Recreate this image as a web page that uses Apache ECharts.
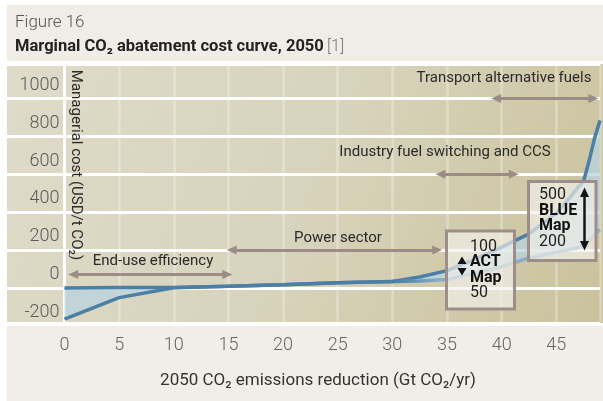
<!DOCTYPE html>
<html><head><meta charset="utf-8">
<script src="https://cdn.jsdelivr.net/npm/echarts@6/dist/echarts.min.js"></script>
<style>html,body{margin:0;padding:0;background:#fff}#c{width:603px;height:401px}</style>
</head><body><div id="c"></div>
<script>
// ---- data ----
const xValues  = [0, 5, 10, 15, 20, 25, 30, 32.5, 35, 37.5, 40, 42.5, 45, 46, 47, 47.5, 48, 48.5, 49];
const highCost = [-71, -69, -68, -62, -54, -43, -37, -13, 21, 80, 145, 215, 325, 390, 462, 495, 600, 720, 815];
const lowCost  = [-236, -122, -70, -62, -54, -43, -37, -34, -26, 6, 42, 88, 118, 130, 142, 158, 182, 210, 238];
const yTickLabels = [-200, 0, 200, 400, 600, 800, 1000];
const xTickLabels = [0, 5, 10, 15, 20, 25, 30, 35, 40, 45];
const sectorNames = ['End-use efficiency', 'Power sector', 'Industry fuel switching and CCS', 'Transport alternative fuels'];
const sectorFrom  = [0.8, 15.3, 34.4, 39.5];
const sectorTo    = [14.9, 34.1, 41.1, 48.4];
const sectorLevel = [0, 130, 530, 930];
const actRange  = [100, 50];
const blueRange = [500, 200];

// ---- layout / style ----
const F = 'Roboto, "Noto Sans", sans-serif';
const yMin = -256, yMax = 1113, gridShift = 70;
const dark = '#4b7fa6', light = '#88adc7', arrowCol = '#9b8c86';

const chart = echarts.init(document.getElementById('c'), null, {renderer: 'canvas'});

const pairs = arr => arr.map((v, i) => [xValues[i], v]);

const sectorLines = sectorNames.map((n, i) => [
  {name: n, coord: [sectorFrom[i], sectorLevel[i]]},
  {coord: [sectorTo[i], sectorLevel[i]]}
]);

// label positions (pixel layout of annotation texts)
const sectorLabelPos = [[153, 261], [338, 238], [445, 152], [504, 78]];

function boxText(top, bottom, label) {
  return '{n|' + top + '}\n{b|' + label + '}\n{b|Map}\n{n|' + bottom + '}';
}

const graphics = [
  {type: 'rect', z: -30, silent: true, shape: {x: 0, y: 0, width: 603, height: 401}, style: {fill: '#ffffff'}},
  {type: 'rect', z: -29, silent: true, shape: {x: 7, y: 5, width: 596, height: 56}, style: {fill: '#efede5'}},
  {type: 'rect', z: -29, silent: true, shape: {x: 7, y: 326, width: 596, height: 75}, style: {fill: '#f0eee7'}},
  {type: 'rect', z: -29, silent: true, shape: {x: 7, y: 64, width: 596, height: 259},
    style: {fill: new echarts.graphic.LinearGradient(0, 0, 1, 1, [
      {offset: 0, color: '#dfdbc9'}, {offset: 0.5, color: '#d8d3bc'}, {offset: 1, color: '#c9c29b'}])}},
  {type: 'text', x: 15, y: 23, silent: true, style: {text: 'Figure 16', fontFamily: F, fontWeight: 300, fontSize: 17, fill: '#555', verticalAlign: 'middle'}},
  {type: 'text', x: 15, y: 46.5, silent: true, style: {
    text: '{b|Marginal CO₂ abatement cost curve, 2050} {l|[1]}', verticalAlign: 'middle',
    rich: {b: {fontFamily: F, fontWeight: 'bold', fontSize: 16.5, fill: '#222'},
           l: {fontFamily: F, fontWeight: 300, fontSize: 16.5, fill: '#777'}}}},
  {type: 'text', x: 75.5, y: 165, rotation: -Math.PI / 2, silent: true, z: 5,
    style: {text: 'Managerial cost (USD/t CO₂)', fontFamily: F, fontSize: 15, fill: '#2a2a2a', align: 'center', verticalAlign: 'middle'}},
  {type: 'text', x: 318, y: 381, silent: true,
    style: {text: '2050 CO₂ emissions reduction (Gt CO₂/yr)', fontFamily: F, fontSize: 17, fill: '#333', align: 'center', verticalAlign: 'middle'}},
  // ACT box
  {type: 'rect', z: 50, silent: true, shape: {x: 446.5, y: 231, width: 68, height: 78},
    style: {fill: 'rgba(243,242,235,0.66)', stroke: '#9d8e89', lineWidth: 3}},
  {type: 'text', z: 51, x: 470, y: 239, silent: true, style: {
    text: boxText(actRange[0], actRange[1], 'ACT'), verticalAlign: 'top',
    rich: {n: {fontFamily: F, fontSize: 16, lineHeight: 15.5, fill: '#222'},
           b: {fontFamily: F, fontSize: 16, fontWeight: 'bold', lineHeight: 15.5, fill: '#111'}}}},
  {type: 'polygon', z: 51, silent: true, shape: {points: [[457.5, 264], [466.5, 264], [462, 256.5]]}, style: {fill: '#111'}},
  {type: 'polygon', z: 51, silent: true, shape: {points: [[457.5, 268], [466.5, 268], [462, 275.5]]}, style: {fill: '#111'}},
  // BLUE box
  {type: 'rect', z: 50, silent: true, shape: {x: 528.5, y: 181.5, width: 67.5, height: 79},
    style: {fill: 'rgba(243,242,235,0.66)', stroke: '#9d8e89', lineWidth: 3}},
  {type: 'text', z: 51, x: 539, y: 187.5, silent: true, style: {
    text: boxText(blueRange[0], blueRange[1], 'BLUE'), verticalAlign: 'top',
    rich: {n: {fontFamily: F, fontSize: 16, lineHeight: 15.5, fill: '#222'},
           b: {fontFamily: F, fontSize: 16, fontWeight: 'bold', lineHeight: 15.5, fill: '#111'}}}},
  {type: 'line', z: 51, silent: true, shape: {x1: 584.5, y1: 195, x2: 584.5, y2: 243}, style: {stroke: '#151515', lineWidth: 2.5}},
  {type: 'polygon', z: 51, silent: true, shape: {points: [[580, 197], [589, 197], [584.5, 187.5]]}, style: {fill: '#151515'}},
  {type: 'polygon', z: 51, silent: true, shape: {points: [[580, 241], [589, 241], [584.5, 250.5]]}, style: {fill: '#151515'}}
];
sectorNames.forEach((n, i) => {
  graphics.push({type: 'text', z: 5, x: sectorLabelPos[i][0], y: sectorLabelPos[i][1], silent: true,
    style: {text: n, fontFamily: F, fontSize: 15, fill: '#2a2a2a', align: 'center', verticalAlign: 'middle'}});
});

const gridLineStyle = {show: true, lineStyle: {color: '#ffffff', width: 3}};

const option = {
  animation: false,
  graphic: graphics,
  grid: [
    {left: 64.5, right: 0, top: 64, bottom: 78, containLabel: false},
    {left: 7, width: 57.5, top: 64, bottom: 78, containLabel: false}
  ],
  xAxis: [
    {type: 'value', gridIndex: 0, min: 0, max: 49, splitNumber: 10, minInterval: 5, maxInterval: 5,
     axisLine: {show: false}, axisTick: {show: false},
     axisLabel: {margin: 13, color: '#666', fontFamily: F, fontWeight: 300, fontSize: 18,
       formatter: v => xTickLabels.includes(v) ? String(v) : ''},
     splitLine: {show: true, lineStyle: {color: 'rgba(255,255,255,0.3)', width: 2.5}}},
    {type: 'value', gridIndex: 1, min: 0, max: 1, show: false}
  ],
  yAxis: [
    {type: 'value', gridIndex: 0, min: yMin, max: yMax, splitNumber: 7, minInterval: 200, maxInterval: 200,
     axisLine: {show: true, lineStyle: {color: '#ffffff', width: 3}}, axisTick: {show: false},
     axisLabel: {margin: 5, color: '#5a5a5a', fontFamily: F, fontWeight: 300, fontSize: 18,
       formatter: v => yTickLabels.includes(v) ? String(v) : ''},
     splitLine: {show: false}},
    {type: 'value', gridIndex: 0, min: yMin + gridShift, max: yMax + gridShift, splitNumber: 7, minInterval: 200, maxInterval: 200,
     axisLine: {show: false}, axisTick: {show: false}, axisLabel: {show: false}, splitLine: gridLineStyle},
    {type: 'value', gridIndex: 1, min: yMin + gridShift, max: yMax + gridShift, splitNumber: 7, minInterval: 200, maxInterval: 200,
     axisLine: {show: false}, axisTick: {show: false}, axisLabel: {show: false}, splitLine: gridLineStyle}
  ],
  series: [
    {type: 'custom', name: 'Cost range', xAxisIndex: 0, yAxisIndex: 0, silent: true, data: [0],
     renderItem: (params, api) => {
       const upper = xValues.map((x, i) => api.coord([x, highCost[i]]));
       const lower = xValues.map((x, i) => api.coord([x, lowCost[i]])).reverse();
       return {type: 'polygon', shape: {points: upper.concat(lower)},
               style: {fill: 'rgba(185,210,225,0.72)'}};
     }},
    {type: 'line', name: 'High estimate', xAxisIndex: 0, yAxisIndex: 0, data: pairs(highCost), symbol: 'none',
     lineStyle: {color: dark, width: 3.5}, silent: true,
     markLine: {silent: true, symbol: ['triangle', 'triangle'], symbolSize: [9, 10], label: {show: false},
       lineStyle: {color: arrowCol, width: 3, type: 'solid'}, data: sectorLines}},
    {type: 'line', name: 'Low estimate', xAxisIndex: 0, yAxisIndex: 0, data: pairs(lowCost), symbol: 'none', silent: true,
     lineStyle: {width: 3.5, color: new echarts.graphic.LinearGradient(0, 0, 1, 0, [
       {offset: 0, color: dark}, {offset: 0.615, color: dark}, {offset: 0.70, color: light}, {offset: 1, color: light}])}}
  ]
};
chart.setOption(option);
</script></body></html>
